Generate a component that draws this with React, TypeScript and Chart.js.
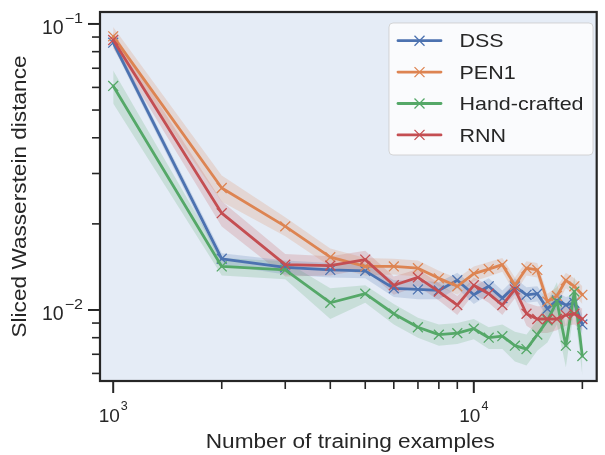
import { useEffect, useRef } from "react";
import { Chart, registerables } from "chart.js";

Chart.register(...registerables);

// ---------- data ----------
const trainSizes = [1000, 2000, 3000, 4000, 5000, 6000, 7000, 8000, 9000, 10000, 11000, 12000, 13000, 14000, 15000, 16000, 17000, 18000, 19000, 20000];

const dss = [0.086, 0.0151, 0.0141, 0.0138, 0.0137, 0.0119, 0.0118, 0.0117, 0.0127, 0.0113, 0.0121, 0.011, 0.0121, 0.0113, 0.0114, 0.0101, 0.0108, 0.0104, 0.0106, 0.0089];
const pen1 = [0.0905, 0.0267, 0.0196, 0.0153, 0.0142, 0.0142, 0.014, 0.0129, 0.0121, 0.0134, 0.0139, 0.0144, 0.0122, 0.014, 0.0138, 0.0107, 0.0112, 0.0127, 0.0121, 0.0113];
const handCrafted = [0.0607, 0.0142, 0.0138, 0.0106, 0.0114, 0.0097, 0.0087, 0.0082, 0.0083, 0.0086, 0.008, 0.0081, 0.0075, 0.0073, 0.0082, 0.0092, 0.0107, 0.0075, 0.0116, 0.0069];
const rnn = [0.0879, 0.0218, 0.0144, 0.0143, 0.015, 0.0122, 0.013, 0.0116, 0.0104, 0.0122, 0.0114, 0.0104, 0.0118, 0.0097, 0.0093, 0.0093, 0.0093, 0.0096, 0.0097, 0.0093];

const dssErr = [0.003, 0.0007, 0.0008, 0.0008, 0.0008, 0.0008, 0.0009, 0.0008, 0.0008, 0.0008, 0.0008, 0.0007, 0.0008, 0.0007, 0.0007, 0.0007, 0.0007, 0.0007, 0.0007, 0.0007];
const pen1Err = [0.007, 0.0028, 0.0015, 0.0011, 0.001, 0.0009, 0.0009, 0.0008, 0.0008, 0.0008, 0.0008, 0.0008, 0.0008, 0.0008, 0.0008, 0.0007, 0.0008, 0.0008, 0.0008, 0.0008];
const handCraftedErr = [0.008, 0.001, 0.001, 0.0013, 0.0008, 0.0008, 0.0007, 0.0007, 0.0007, 0.0007, 0.0007, 0.0008, 0.0009, 0.0009, 0.001, 0.0015, 0.0018, 0.0012, 0.0015, 0.001];
const rnnErr = [0.0057, 0.0022, 0.0013, 0.0011, 0.0011, 0.0009, 0.0009, 0.0008, 0.0008, 0.0008, 0.0008, 0.0008, 0.0008, 0.0009, 0.001, 0.001, 0.0008, 0.0008, 0.0008, 0.0008];

const seriesNames = ["DSS", "PEN1", "Hand-crafted", "RNN"];
const seriesColors = ["#4c72b0", "#dd8452", "#55a868", "#c44e52"];

const xTickLabels = [
  { value: 1000, base: "10", exp: "3" },
  { value: 10000, base: "10", exp: "4" },
];
const yTickLabels = [
  { value: 0.01, base: "10", exp: "\u22122" },
  { value: 0.1, base: "10", exp: "\u22121" },
];

const xTitle = "Number of training examples";
const yTitle = "Sliced Wasserstein distance";

// ---------- helpers ----------
const INK = "#262626";
const FONT = "'Liberation Sans', Arial, Helvetica, sans-serif";
const STRETCH = 1.16;

function hexA(hex: string, a: number) {
  const n = parseInt(hex.slice(1), 16);
  return `rgba(${(n >> 16) & 255},${(n >> 8) & 255},${n & 255},${a})`;
}

function textStretched(ctx: CanvasRenderingContext2D, t: string, x: number, y: number, sx: number, align: CanvasTextAlign) {
  ctx.save();
  ctx.translate(x, y);
  ctx.scale(sx, 1);
  ctx.textAlign = align;
  ctx.fillText(t, 0, 0);
  ctx.restore();
}

const decorPlugin = {
  id: "decor",
  beforeDraw(chart: any) {
    const { ctx, chartArea: a } = chart;
    ctx.save();
    ctx.fillStyle = "#ffffff";
    ctx.fillRect(0, 0, chart.width, chart.height);
    ctx.fillStyle = "#e5ecf6";
    ctx.fillRect(a.left, a.top, a.right - a.left, a.bottom - a.top);
    ctx.restore();
  },
  afterDraw(chart: any) {
    const { ctx, chartArea: a } = chart;
    const xs = chart.scales.x;
    const ys = chart.scales.y;
    ctx.save();
    ctx.strokeStyle = INK;
    ctx.fillStyle = INK;
    ctx.lineCap = "butt";

    // ticks
    const drawTicks = (scale: any, horizontal: boolean) => {
      const e0 = Math.floor(Math.log10(scale.min));
      const e1 = Math.ceil(Math.log10(scale.max));
      for (let e = e0; e <= e1; e++) {
        for (let k = 1; k <= 9; k++) {
          const v = k * Math.pow(10, e);
          if (v < scale.min || v > scale.max) continue;
          const p = scale.getPixelForValue(v);
          const major = k === 1;
          const len = major ? 12 : 8;
          ctx.lineWidth = major ? 2 : 1.6;
          ctx.beginPath();
          if (horizontal) {
            ctx.moveTo(p, a.bottom);
            ctx.lineTo(p, a.bottom + len);
          } else {
            ctx.moveTo(a.left, p);
            ctx.lineTo(a.left - len, p);
          }
          ctx.stroke();
        }
      }
    };
    drawTicks(xs, true);
    drawTicks(ys, false);

    // frame
    ctx.lineWidth = 2.2;
    ctx.strokeRect(a.left, a.top, a.right - a.left, a.bottom - a.top);

    // x tick labels
    ctx.textBaseline = "alphabetic";
    for (const t of xTickLabels) {
      const px = xs.getPixelForValue(t.value);
      ctx.font = `19px ${FONT}`;
      const w1 = ctx.measureText(t.base).width;
      ctx.font = `12.5px ${FONT}`;
      const w2 = ctx.measureText(t.exp).width;
      const start = px - (w1 + 1 + w2) / 2;
      ctx.font = `19px ${FONT}`;
      ctx.textAlign = "left";
      ctx.fillText(t.base, start, a.bottom + 41);
      ctx.font = `12.5px ${FONT}`;
      ctx.fillText(t.exp, start + w1 + 1, a.bottom + 29);
    }

    // y tick labels
    for (const t of yTickLabels) {
      const py = ys.getPixelForValue(t.value);
      const right = a.left - 17;
      ctx.font = `14px ${FONT}`;
      const w2 = ctx.measureText(t.exp).width * 1.15;
      textStretched(ctx, t.exp, right, py - 1, 1.15, "right");
      ctx.font = `19.5px ${FONT}`;
      ctx.textAlign = "right";
      ctx.fillText(t.base, right - w2 - 1, py + 10.5);
    }

    // axis titles
    ctx.font = `19.5px ${FONT}`;
    textStretched(ctx, xTitle, (a.left + a.right) / 2 + 2, 448, STRETCH, "center");
    ctx.save();
    ctx.translate(26, (a.top + a.bottom) / 2);
    ctx.rotate(-Math.PI / 2);
    ctx.scale(STRETCH, 1);
    ctx.textAlign = "center";
    ctx.fillText(yTitle, 0, 0);
    ctx.restore();

    // legend
    const bx = 389, by = 23, bw = 204, bh = 132, r = 4;
    ctx.beginPath();
    ctx.moveTo(bx + r, by);
    ctx.arcTo(bx + bw, by, bx + bw, by + bh, r);
    ctx.arcTo(bx + bw, by + bh, bx, by + bh, r);
    ctx.arcTo(bx, by + bh, bx, by, r);
    ctx.arcTo(bx, by, bx + bw, by, r);
    ctx.closePath();
    ctx.fillStyle = "rgba(255,255,255,0.8)";
    ctx.fill();
    ctx.strokeStyle = "rgba(204,204,204,0.8)";
    ctx.lineWidth = 1;
    ctx.stroke();
    seriesNames.forEach((name, i) => {
      const y = 40.7 + i * 31.4;
      const c = seriesColors[i];
      ctx.strokeStyle = c;
      ctx.lineWidth = 2.8;
      ctx.lineCap = "round";
      ctx.beginPath();
      ctx.moveTo(398, y);
      ctx.lineTo(441, y);
      ctx.stroke();
      ctx.lineWidth = 1.3;
      ctx.lineCap = "butt";
      const d = 5;
      ctx.beginPath();
      ctx.moveTo(419.5 - d, y - d);
      ctx.lineTo(419.5 + d, y + d);
      ctx.moveTo(419.5 - d, y + d);
      ctx.lineTo(419.5 + d, y - d);
      ctx.stroke();
      ctx.fillStyle = INK;
      ctx.font = `18.5px ${FONT}`;
      textStretched(ctx, name, 459.5, y + 6.7, STRETCH, "left");
    });

    ctx.restore();
  },
};

export default function App() {
  const ref = useRef<HTMLCanvasElement | null>(null);

  useEffect(() => {
    document.body.style.margin = "0";
    const canvas = ref.current;
    if (!canvas) return;

    const values = [dss, pen1, handCrafted, rnn];
    const errs = [dssErr, pen1Err, handCraftedErr, rnnErr];
    const pts = (arr: number[]) => trainSizes.map((x, i) => ({ x, y: arr[i] }));

    const bandSets: any[] = [];
    values.forEach((v, s) => {
      const hi = v.map((y, i) => y + errs[s][i]);
      const lo = v.map((y, i) => y - errs[s][i]);
      bandSets.push({
        data: pts(hi),
        borderWidth: 0,
        pointRadius: 0,
        fill: false,
        order: 10,
      });
      bandSets.push({
        data: pts(lo),
        borderWidth: 0,
        pointRadius: 0,
        fill: "-1",
        backgroundColor: hexA(seriesColors[s], 0.2),
        order: 10,
      });
    });

    const lineSets = values.map((v, s) => ({
      label: seriesNames[s],
      data: pts(v),
      borderColor: seriesColors[s],
      backgroundColor: seriesColors[s],
      borderWidth: 2.8,
      borderJoinStyle: "round",
      borderCapStyle: "round",
      pointStyle: "crossRot",
      pointRadius: 7,
      pointBorderWidth: 1.3,
      pointBorderColor: seriesColors[s],
      fill: false,
      tension: 0,
      order: 4 - s,
    }));

    const chart = new Chart(canvas, {
      type: "line",
      data: { datasets: [...bandSets, ...lineSets] as any },
      options: {
        animation: false,
        responsive: false,
        devicePixelRatio: 1,
        events: [],
        layout: { padding: { top: 12, right: 5, left: 0, bottom: 0 } },
        plugins: {
          legend: { display: false },
          tooltip: { enabled: false },
          title: { display: false },
        },
        scales: {
          x: {
            type: "logarithmic",
            min: 919.2,
            max: 21918,
            bounds: "data",
            grid: { display: false },
            border: { display: false },
            ticks: { display: false },
            afterFit: (s: any) => {
              s.height = 74;
            },
          },
          y: {
            type: "logarithmic",
            min: 0.005645,
            max: 0.1101,
            bounds: "data",
            grid: { display: false },
            border: { display: false },
            ticks: { display: false },
            afterFit: (s: any) => {
              s.width = 100;
            },
          },
        },
      } as any,
      plugins: [decorPlugin],
    });

    return () => chart.destroy();
  }, []);

  return (
    <div style={{ width: 605, height: 455 }}>
      <canvas ref={ref} width={605} height={455} style={{ display: "block", width: 605, height: 455 }} />
    </div>
  );
}
